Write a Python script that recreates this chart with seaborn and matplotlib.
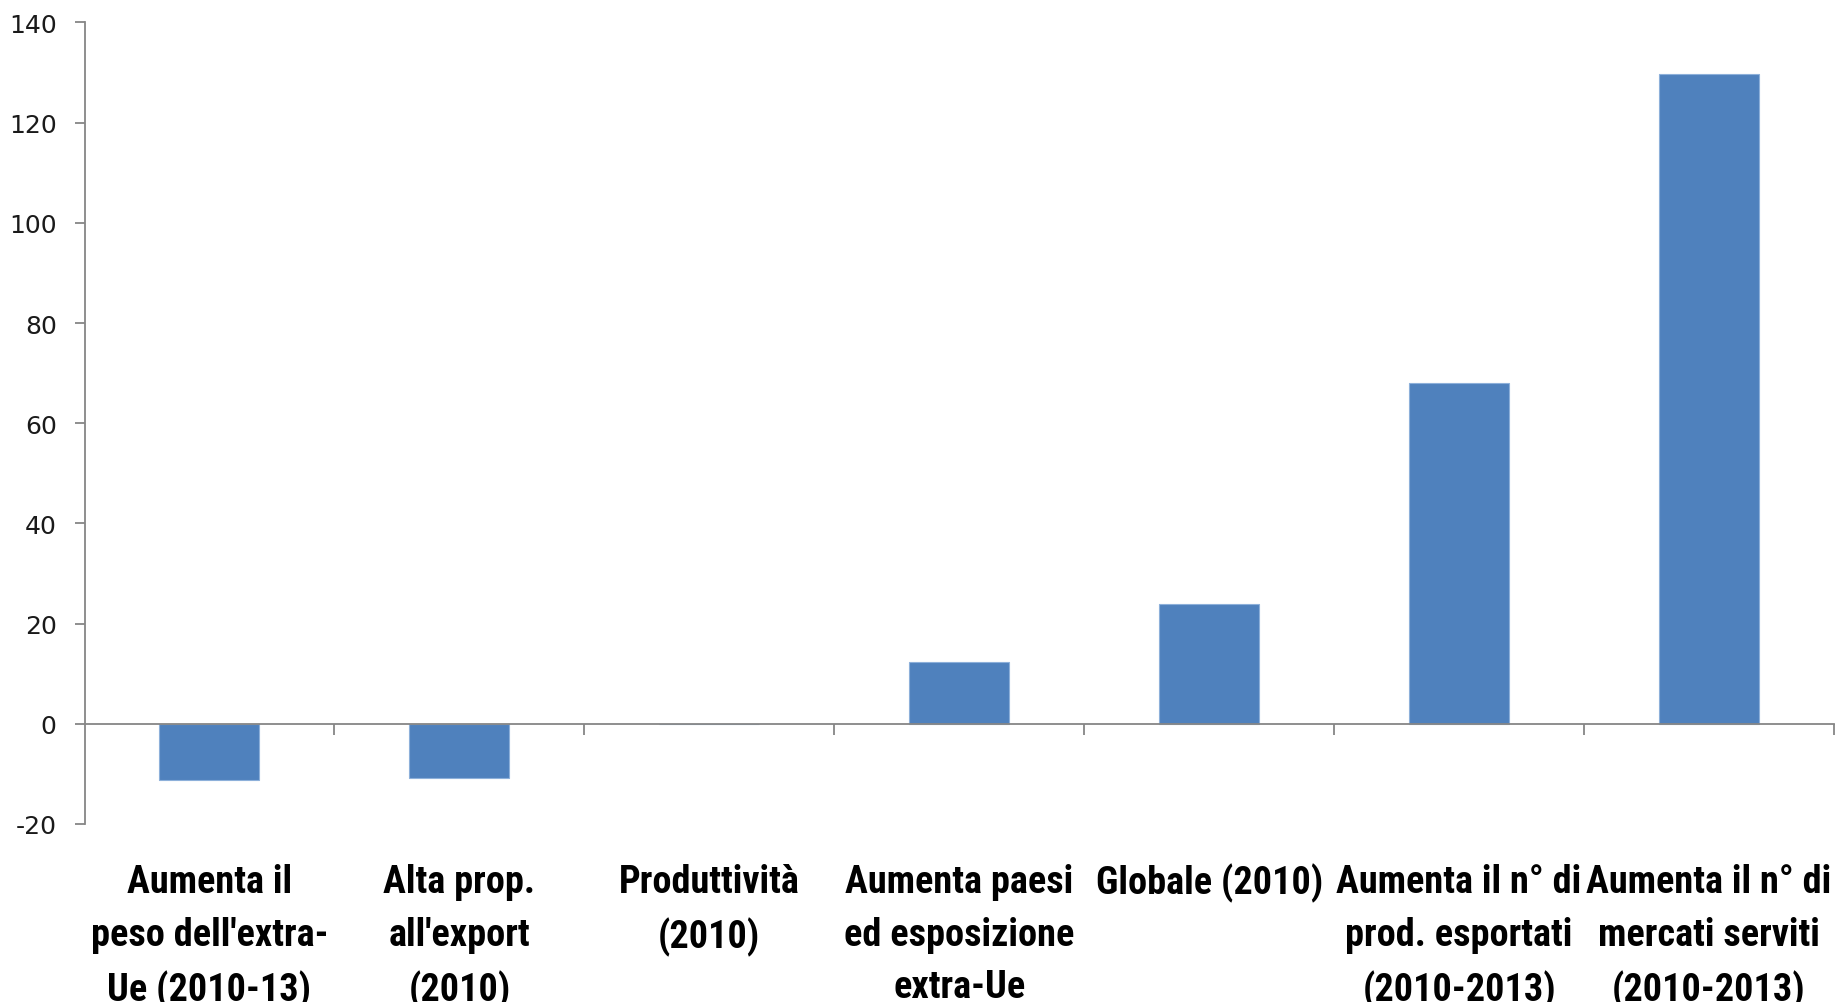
import matplotlib
matplotlib.use("Agg")
import matplotlib.pyplot as plt
import matplotlib.transforms as mtransforms
import seaborn as sns
import pandas as pd

categories = [
    "Aumenta il\npeso dell'extra-\nUe (2010-13)",
    "Alta prop.\nall'export\n(2010)",
    "Produttività\n(2010)",
    "Aumenta paesi\ned esposizione\nextra-Ue",
    "Globale (2010)",
    "Aumenta il n° di\nprod. esportati\n(2010-2013)",
    "Aumenta il n° di\nmercati serviti\n(2010-2013)",
]
values = [-11.2, -10.8, 0.0, 12.4, 23.9, 68.0, 129.8]
y_ticks = [-20, 0, 20, 40, 60, 80, 100, 120, 140]

sns.set_theme(style="white")
plt.rcParams["font.family"] = ["DejaVu Sans"]

df = pd.DataFrame({"cat": categories, "val": values})

fig = plt.figure(figsize=(18.41, 10.03), dpi=100)
ax = fig.add_axes([0.0459, 0.1775, 0.9503, 0.7991])

sns.barplot(data=df, x="cat", y="val", color="#4F81BD", width=0.4,
            edgecolor="#8DB0DA", linewidth=0.8, saturation=1, ax=ax)

ax.set_ylim(-20, 140)
ax.set_xlim(-0.5, len(categories) - 0.5)
ax.set_yticks(y_ticks)
ax.set_yticklabels([str(t) for t in y_ticks], fontsize=18, color="#1a1a1a")
ax.set_xlabel("")
ax.set_ylabel("")

grey = "#868686"
for side in ("top", "right"):
    ax.spines[side].set_visible(False)
ax.spines["left"].set_color(grey)
ax.spines["left"].set_linewidth(1.3)
ax.spines["bottom"].set_position(("data", 0))
ax.spines["bottom"].set_color(grey)
ax.spines["bottom"].set_linewidth(1.3)

ax.tick_params(axis="y", direction="out", length=7, width=1.3, color=grey, pad=13, left=True)
# category boundaries as visible ticks on the zero line
ax.set_xticks([i + 0.5 for i in range(len(categories))], minor=True)
ax.tick_params(axis="x", which="minor", direction="out", length=8, width=1.3, color=grey, bottom=True)
ax.set_xticks(range(len(categories)))
ax.set_xticklabels([])
ax.tick_params(axis="x", which="major", length=0)

label_trans = mtransforms.offset_copy(ax.transData, fig=fig, y=-39, units="dots")
for i, lab in enumerate(categories):
    ax.text(i, -20, lab, transform=label_trans, ha="center", va="top",
            fontsize=27.5, fontweight="bold",
            family=["Roboto Condensed", "Lato", "DejaVu Sans"],
            linespacing=1.54, color="#000000")

fig.savefig("out.png", dpi=100)
